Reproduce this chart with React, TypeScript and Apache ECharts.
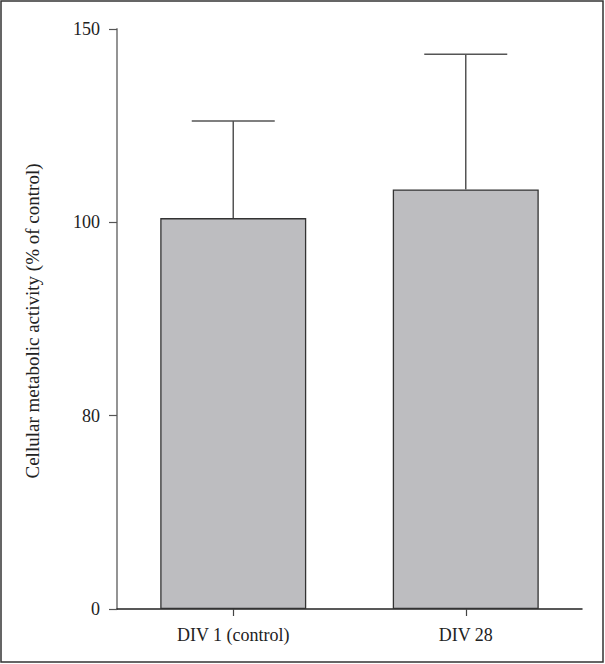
import React, { useEffect, useRef } from "react";
import * as echarts from "echarts";

const categories = ["DIV 1 (control)", "DIV 28"];
const means = [101.1, 108.5];
const sds = [25.1, 35.0];
const tickValues = [0, 80, 100, 150];
const yAxisTitle = "Cellular metabolic activity (% of control)";

// piecewise axis: each segment between tick values gets equal height
function toAxis(v: number): number {
  for (let i = 0; i < tickValues.length - 1; i++) {
    const a = tickValues[i];
    const b = tickValues[i + 1];
    if (v <= b || i === tickValues.length - 2) {
      return i + (v - a) / (b - a);
    }
  }
  return 0;
}

const FONT = "Liberation Serif";

export default function App() {
  const ref = useRef<HTMLDivElement>(null);
  useEffect(() => {
    if (!ref.current) return;
    const chart = echarts.init(ref.current, null, { renderer: "svg" });
    chart.setOption({
      animation: false,
      backgroundColor: "#ffffff",
      grid: { left: 117, right: 23, top: 29, bottom: 55, containLabel: false },
      graphic: [
        {
          type: "rect",
          shape: { x: 1, y: 1, width: 602, height: 661 },
          style: { fill: "none", stroke: "#333", lineWidth: 1.5 },
          silent: true,
        },
        {
          type: "text",
          x: 32,
          y: 321,
          rotation: Math.PI / 2,
          style: {
            text: yAxisTitle,
            font: `19px "${FONT}"`,
            fill: "#222",
            align: "center",
            verticalAlign: "middle",
          },
        },
      ],
      xAxis: {
        type: "category",
        data: categories,
        axisLine: { show: true, lineStyle: { color: "#222", width: 1.5 } },
        axisTick: { show: true, alignWithLabel: true, length: 7, lineStyle: { color: "#444", width: 1.2 } },
        axisLabel: { color: "#222", fontFamily: FONT, fontSize: 18, margin: 17 },
      },
      yAxis: {
        type: "value",
        min: 0,
        max: tickValues.length - 1,
        interval: 1,
        axisLine: { show: true, lineStyle: { color: "#888", width: 1.8 } },
        axisTick: { show: true, length: 8, lineStyle: { color: "#555", width: 1.2 } },
        splitLine: { show: false },
        axisLabel: {
          color: "#222",
          fontFamily: FONT,
          fontSize: 18,
          margin: 17,
          formatter: (v: number) => String(tickValues[Math.round(v)]),
        },
      },
      series: [
        {
          type: "bar",
          data: means.map((m) => toAxis(m)),
          barWidth: 146,
          itemStyle: { color: "#bdbdc0", borderColor: "#333", borderWidth: 1.3 },
          z: 2,
        },
        {
          type: "custom",
          data: means.map((m, i) => [i, toAxis(m), toAxis(m + sds[i])]),
          z: 3,
          renderItem: (params: any, api: any) => {
            const base = api.coord([api.value(0), api.value(1)]);
            const top = api.coord([api.value(0), api.value(2)]);
            const half = 41.5;
            const style = { stroke: "#555", lineWidth: 1.5 };
            return {
              type: "group",
              children: [
                { type: "line", shape: { x1: base[0], y1: base[1], x2: top[0], y2: top[1] }, style },
                { type: "line", shape: { x1: top[0] - half, y1: top[1], x2: top[0] + half, y2: top[1] }, style },
              ],
            };
          },
        },
      ],
    });
    return () => chart.dispose();
  }, []);
  return (
    <div
      ref={ref}
      style={{ position: "absolute", left: 0, top: 0, width: 605, height: 664 }}
    />
  );
}
